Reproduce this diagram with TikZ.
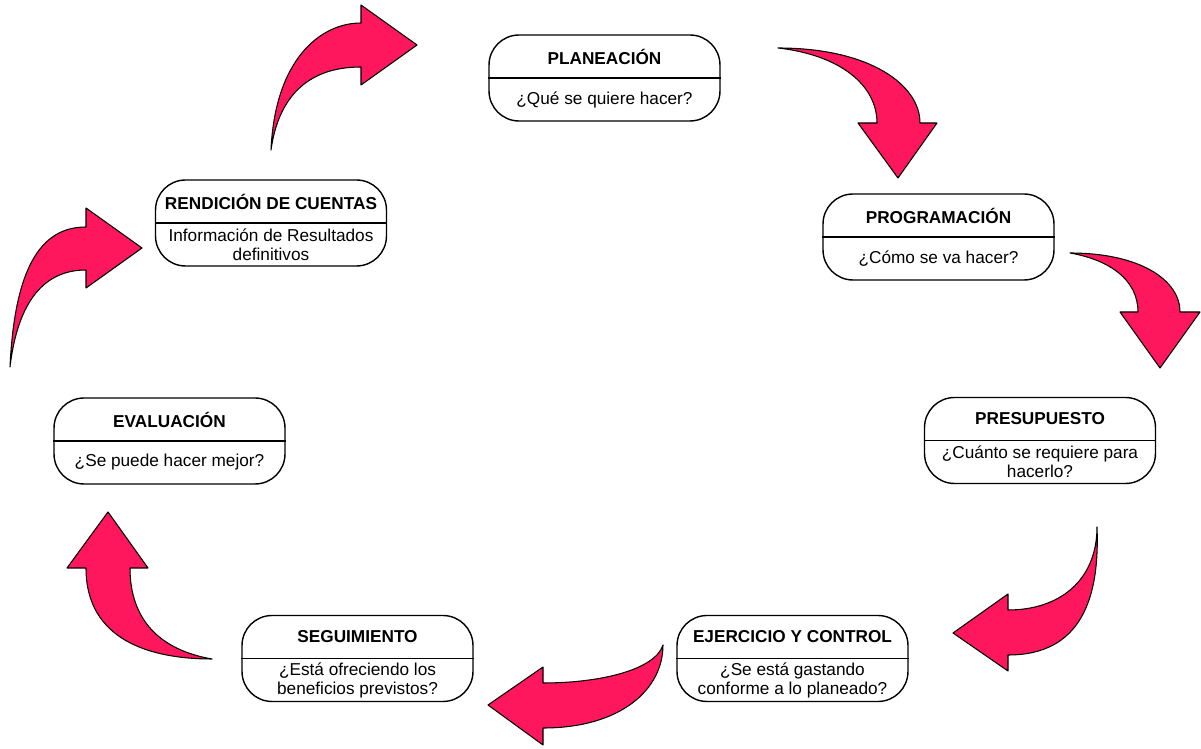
\documentclass[tikz,border=0pt]{standalone}
\usepackage{fontspec}
\setmainfont{Liberation Sans}
\usetikzlibrary{positioning}
\definecolor{arrowpink}{RGB}{255,23,94}

\begin{document}
\begin{tikzpicture}[x=0.02cm,y=-0.02cm,
	main node/.style={rectangle,draw,line width=0.8pt,rounded corners=0.6cm,minimum width=4.62cm,minimum height=1.72cm},
	head node/.style={font=\bfseries\fontsize{9.8}{10.8}\selectfont,yshift=0.43cm},
	text node/.style={font=\fontsize{9.8}{10.8}\selectfont,align=center,yshift=-0.43cm},
	bend arrow/.style={fill=arrowpink,draw=black,line width=0.6pt,line join=round}]
	
	\useasboundingbox (0,0) rectangle (1201,749);
	
	% boxes
	\node[main node] (Planeacion)	at (604.5,78)	{};
	\node[main node] (Programacion)	at (938.5,237)	{};
	\node[main node] (Presupuesto)	at (1040,440.5)	{};
	\node[main node] (Ejercicio)	at (792.5,658.5)	{};
	\node[main node] (Seguimiento)	at (357.5,658.5)	{};
	\node[main node] (Evaluacion)	at (169.5,441)	{};
	\node[main node] (Rendicion)	at (271,223)	{};
	
	\draw[line width=0.8pt] (Planeacion.west) -- (Planeacion.east);
	\draw[line width=0.8pt] (Programacion.west) -- (Programacion.east);
	\draw[line width=0.8pt] (Presupuesto.west) -- (Presupuesto.east);
	\draw[line width=0.8pt] (Ejercicio.west) -- (Ejercicio.east);
	\draw[line width=0.8pt] (Seguimiento.west) -- (Seguimiento.east);
	\draw[line width=0.8pt] (Evaluacion.west) -- (Evaluacion.east);
	\draw[line width=0.8pt] (Rendicion.west) -- (Rendicion.east);
	
	% texts
	\node[head node] (PlaneacionHead)	at (Planeacion.center)	{PLANEACIÓN};
	\node[text node] (PlaneacionText)	at (Planeacion.center)	{¿Qué se quiere hacer?};
	\node[head node] (ProgramacionHead)	at (Programacion.center)	{PROGRAMACIÓN};
	\node[text node] (ProgramacionText)	at (Programacion.center)	{¿Cómo se va hacer?};
	\node[head node] (PresupuestoHead)	at (Presupuesto.center)	{PRESUPUESTO};
	\node[text node] (PresupuestoText)	at (Presupuesto.center)	{¿Cuánto se requiere para\\hacerlo?};
	\node[head node] (EjercicioHead)	at (Ejercicio.center)	{EJERCICIO Y CONTROL};
	\node[text node] (EjercicioText)	at (Ejercicio.center)	{¿Se está gastando\\conforme a lo planeado?};
	\node[head node] (SeguimientoHead)	at (Seguimiento.center)	{SEGUIMIENTO};
	\node[text node] (SeguimientoText)	at (Seguimiento.center)	{¿Está ofreciendo los\\beneficios previstos?};
	\node[head node] (EvaluacionHead)	at (Evaluacion.center)	{EVALUACIÓN};
	\node[text node] (EvaluacionText)	at (Evaluacion.center)	{¿Se puede hacer mejor?};
	\node[head node] (RendicionHead)	at (Rendicion.center)	{RENDICIÓN DE CUENTAS};
	\node[text node] (RendicionText)	at (Rendicion.center)	{Información de Resultados\\definitivos};
	
	% curved arrows
	\draw[bend arrow] (778,48) .. controls (870,48) and (920,85) .. (920,123) -- (937,123) -- (898,178) -- (858,123) -- (877,123) .. controls (877,85) and (840,55) .. (778,48) -- cycle;
	\draw[bend arrow] (1070,253) .. controls (1140,253) and (1180,280) .. (1180,312) -- (1200,312) -- (1160,368) -- (1120,312) -- (1138,312) .. controls (1138,280) and (1110,260) .. (1070,253) -- cycle;
	\draw[bend arrow] (1097,527) .. controls (1097,580) and (1060,610) .. (1008,610) -- (1008,594) -- (953,633) -- (1008,671) -- (1008,655) .. controls (1080,655) and (1100,600) .. (1097,527) -- cycle;
	\draw[bend arrow] (663,645) .. controls (655,670) and (600,683) .. (543,683) -- (543,667) -- (488,705) -- (543,745) -- (543,728) .. controls (620,728) and (663,690) .. (663,645) -- cycle;
	\draw[bend arrow] (212,659) .. controls (150,659) and (86,640) .. (86,568) -- (67,568) -- (108,512) -- (148,568) -- (130,568) .. controls (130,620) and (160,650) .. (212,659) -- cycle;
	\draw[bend arrow] (10,367) .. controls (15,260) and (45,227) .. (86,227) -- (86,208) -- (142,248) -- (86,288) -- (86,270) .. controls (45,270) and (18,300) .. (10,367) -- cycle;
	\draw[bend arrow] (271,150) .. controls (275,60) and (320,23) .. (361,23) -- (361,5) -- (417,45) -- (361,85) -- (361,67) .. controls (305,67) and (278,100) .. (271,150) -- cycle;
\end{tikzpicture}
\end{document}
